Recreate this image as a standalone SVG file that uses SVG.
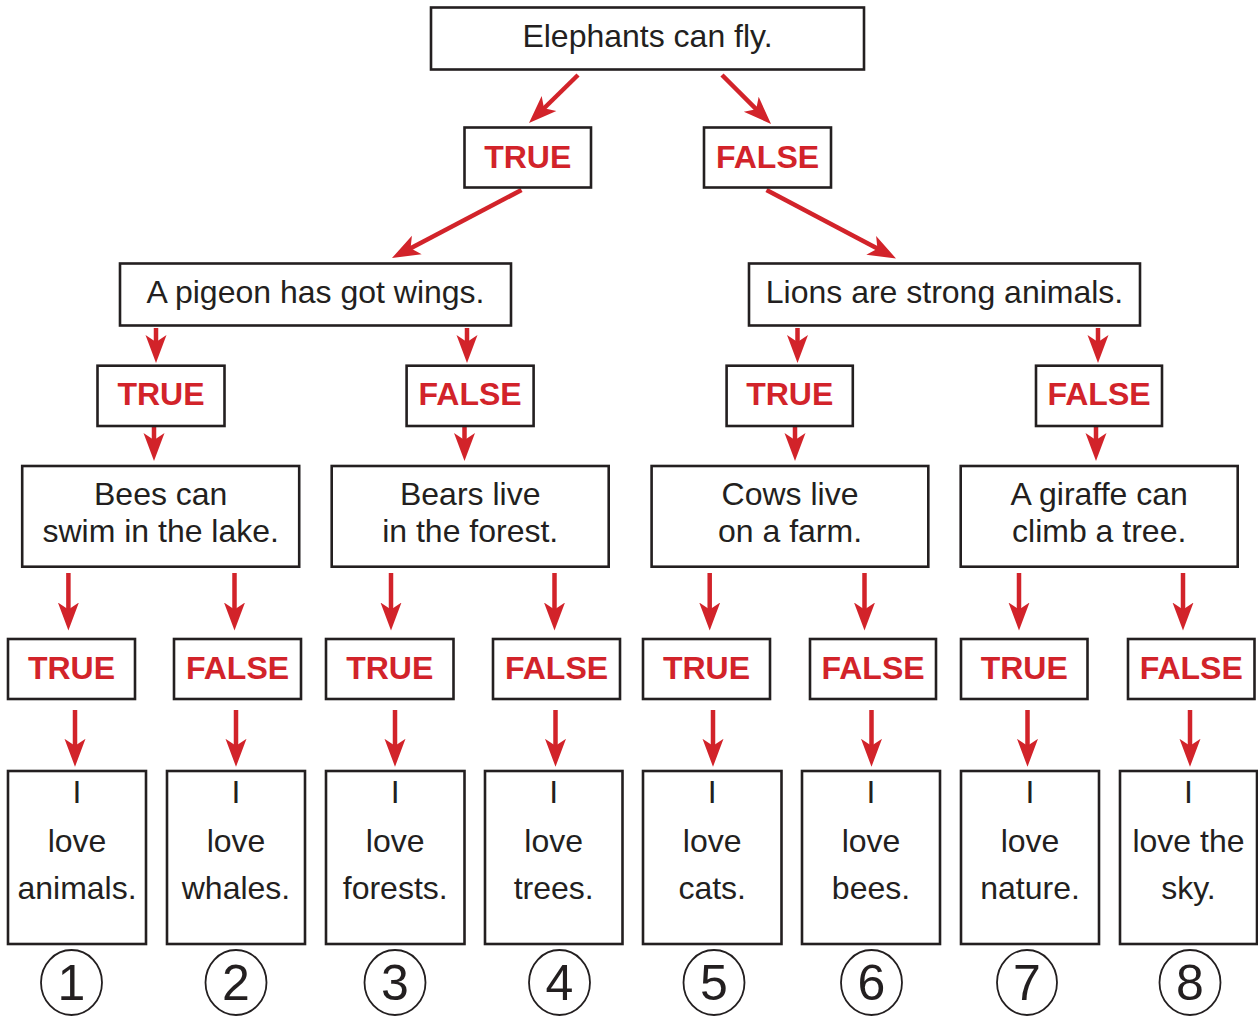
<svg xmlns="http://www.w3.org/2000/svg" width="1258" height="1016" viewBox="0 0 1258 1016">
<defs>
<style>
.box{fill:#ffffff;stroke:#231f20;stroke-width:2.6}
.t{font-family:"Liberation Sans",Arial,sans-serif;font-size:32px;fill:#231f20;text-anchor:middle}
.tf{font-family:"Liberation Sans",Arial,sans-serif;font-size:32px;font-weight:bold;fill:#d2232a;text-anchor:middle}
.num{font-family:"Liberation Sans",Arial,sans-serif;font-size:50px;fill:#231f20;text-anchor:middle}
.circ{fill:#ffffff;stroke:#231f20;stroke-width:1.8}
.arr{stroke:#d2232a;stroke-width:4.5;fill:none;marker-end:url(#ah)}
</style>
<marker id="ah" markerUnits="userSpaceOnUse" markerWidth="30" markerHeight="24" viewBox="0 -12 30 24" refX="8" refY="0" orient="auto">
<path d="M28,0 L0,-10.5 L7,0 L0,10.5 Z" fill="#d2232a"/>
</marker>
</defs>

<g id="connectors">
<line class="arr" x1="578" y1="75" x2="543.3" y2="109"/>
<line class="arr" x1="722" y1="75" x2="756.9" y2="109.9"/>
<line class="arr" x1="521.5" y1="190" x2="409.7" y2="248.7"/>
<line class="arr" x1="766.5" y1="190" x2="878.3" y2="249.1"/>

<line class="arr" x1="156" y1="328" x2="156" y2="343"/>
<line class="arr" x1="467" y1="328" x2="467" y2="343"/>
<line class="arr" x1="797.5" y1="328" x2="797.5" y2="343"/>
<line class="arr" x1="1098" y1="328" x2="1098" y2="343"/>

<line class="arr" x1="154" y1="426" x2="154" y2="441"/>
<line class="arr" x1="464.5" y1="426" x2="464.5" y2="441"/>
<line class="arr" x1="795" y1="426" x2="795" y2="441"/>
<line class="arr" x1="1096" y1="426" x2="1096" y2="441"/>

<line class="arr" x1="68.4" y1="573" x2="68.4" y2="610.5"/>
<line class="arr" x1="234.5" y1="573" x2="234.5" y2="610.5"/>
<line class="arr" x1="391" y1="573" x2="391" y2="610.5"/>
<line class="arr" x1="554.5" y1="573" x2="554.5" y2="610.5"/>
<line class="arr" x1="709.7" y1="573" x2="709.7" y2="610.5"/>
<line class="arr" x1="864.5" y1="573" x2="864.5" y2="610.5"/>
<line class="arr" x1="1019" y1="573" x2="1019" y2="610.5"/>
<line class="arr" x1="1183" y1="573" x2="1183" y2="610.5"/>

<line class="arr" x1="75" y1="710" x2="75" y2="746.8"/>
<line class="arr" x1="236" y1="710" x2="236" y2="746.8"/>
<line class="arr" x1="395" y1="710" x2="395" y2="746.8"/>
<line class="arr" x1="555.5" y1="710" x2="555.5" y2="746.8"/>
<line class="arr" x1="713" y1="710" x2="713" y2="746.8"/>
<line class="arr" x1="871.5" y1="710" x2="871.5" y2="746.8"/>
<line class="arr" x1="1027.5" y1="710" x2="1027.5" y2="746.8"/>
<line class="arr" x1="1190" y1="710" x2="1190" y2="746.8"/>
</g>

<g id="root"><rect class="box" x="431" y="7.5" width="433" height="62"/><text class="t" x="647.5" y="47">Elephants can fly.</text></g>

<g id="tf1-true"><rect class="box" x="464.5" y="127.5" width="126.5" height="60"/><text class="tf" x="527.7" y="168">TRUE</text></g>
<g id="tf1-false"><rect class="box" x="704" y="127.5" width="127" height="60"/><text class="tf" x="767.5" y="168">FALSE</text></g>

<g id="q-pigeon"><rect class="box" x="120" y="263.5" width="391" height="62"/><text class="t" x="315.5" y="302.7">A pigeon has got wings.</text></g>
<g id="q-lions"><rect class="box" x="749" y="263.5" width="391" height="62"/><text class="t" x="944.5" y="302.7">Lions are strong animals.</text></g>

<g id="tf2-true-a"><rect class="box" x="97.5" y="365.7" width="127" height="60.3"/><text class="tf" x="161" y="405">TRUE</text></g>
<g id="tf2-false-a"><rect class="box" x="406.6" y="365.7" width="127" height="60.3"/><text class="tf" x="470.1" y="405">FALSE</text></g>
<g id="tf2-true-b"><rect class="box" x="726.6" y="365.7" width="126.2" height="60.3"/><text class="tf" x="789.7" y="405">TRUE</text></g>
<g id="tf2-false-b"><rect class="box" x="1036" y="365.7" width="126" height="60.3"/><text class="tf" x="1099" y="405">FALSE</text></g>

<g id="q-bees"><rect class="box" x="22.2" y="466" width="277" height="100.7"/><text class="t" x="160.7" y="505">Bees can</text><text class="t" x="160.7" y="542">swim in the lake.</text></g>
<g id="q-bears"><rect class="box" x="331.7" y="466" width="277" height="100.7"/><text class="t" x="470.2" y="505">Bears live</text><text class="t" x="470.2" y="542">in the forest.</text></g>
<g id="q-cows"><rect class="box" x="651.6" y="466" width="276.7" height="100.7"/><text class="t" x="790" y="505">Cows live</text><text class="t" x="790" y="542">on a farm.</text></g>
<g id="q-giraffe"><rect class="box" x="960.7" y="466" width="277" height="100.7"/><text class="t" x="1099.2" y="505">A giraffe can</text><text class="t" x="1099.2" y="542">climb a tree.</text></g>

<g id="tf3-1"><rect class="box" x="8" y="639" width="127" height="60"/><text class="tf" x="71.5" y="679">TRUE</text></g>
<g id="tf3-2"><rect class="box" x="174" y="639" width="127" height="60"/><text class="tf" x="237.5" y="679">FALSE</text></g>
<g id="tf3-3"><rect class="box" x="326" y="639" width="127.5" height="60"/><text class="tf" x="389.7" y="679">TRUE</text></g>
<g id="tf3-4"><rect class="box" x="493" y="639" width="127" height="60"/><text class="tf" x="556.5" y="679">FALSE</text></g>
<g id="tf3-5"><rect class="box" x="643" y="639" width="127" height="60"/><text class="tf" x="706.5" y="679">TRUE</text></g>
<g id="tf3-6"><rect class="box" x="810" y="639" width="126" height="60"/><text class="tf" x="873" y="679">FALSE</text></g>
<g id="tf3-7"><rect class="box" x="961" y="639" width="126.5" height="60"/><text class="tf" x="1024.2" y="679">TRUE</text></g>
<g id="tf3-8"><rect class="box" x="1128" y="639" width="126.5" height="60"/><text class="tf" x="1191.2" y="679">FALSE</text></g>

<g id="leaf-1"><rect class="box" x="8" y="771" width="138" height="173"/><text class="t" x="77" y="803">I</text><text class="t" x="77" y="851.5">love</text><text class="t" x="77" y="899">animals.</text></g>
<g id="leaf-2"><rect class="box" x="167" y="771" width="138" height="173"/><text class="t" x="236" y="803">I</text><text class="t" x="236" y="851.5">love</text><text class="t" x="236" y="899">whales.</text></g>
<g id="leaf-3"><rect class="box" x="326" y="771" width="138.5" height="173"/><text class="t" x="395.2" y="803">I</text><text class="t" x="395.2" y="851.5">love</text><text class="t" x="395.2" y="899">forests.</text></g>
<g id="leaf-4"><rect class="box" x="485" y="771" width="137.5" height="173"/><text class="t" x="553.7" y="803">I</text><text class="t" x="553.7" y="851.5">love</text><text class="t" x="553.7" y="899">trees.</text></g>
<g id="leaf-5"><rect class="box" x="643" y="771" width="138.5" height="173"/><text class="t" x="712.2" y="803">I</text><text class="t" x="712.2" y="851.5">love</text><text class="t" x="712.2" y="899">cats.</text></g>
<g id="leaf-6"><rect class="box" x="802" y="771" width="138" height="173"/><text class="t" x="871" y="803">I</text><text class="t" x="871" y="851.5">love</text><text class="t" x="871" y="899">bees.</text></g>
<g id="leaf-7"><rect class="box" x="961" y="771" width="138" height="173"/><text class="t" x="1030" y="803">I</text><text class="t" x="1030" y="851.5">love</text><text class="t" x="1030" y="899">nature.</text></g>
<g id="leaf-8"><rect class="box" x="1120" y="771" width="137" height="173"/><text class="t" x="1188.5" y="803">I</text><text class="t" x="1188.5" y="851.5">love the</text><text class="t" x="1188.5" y="899">sky.</text></g>

<g id="num-1"><ellipse class="circ" cx="71.5" cy="982.5" rx="30.5" ry="32.5"/><text class="num" x="71.5" y="1000">1</text></g>
<g id="num-2"><ellipse class="circ" cx="236" cy="982.5" rx="30.5" ry="32.5"/><text class="num" x="236" y="1000">2</text></g>
<g id="num-3"><ellipse class="circ" cx="395" cy="982.5" rx="30.5" ry="32.5"/><text class="num" x="395" y="1000">3</text></g>
<g id="num-4"><ellipse class="circ" cx="559.5" cy="982.5" rx="30.5" ry="32.5"/><text class="num" x="559.5" y="1000">4</text></g>
<g id="num-5"><ellipse class="circ" cx="714" cy="982.5" rx="30.5" ry="32.5"/><text class="num" x="714" y="1000">5</text></g>
<g id="num-6"><ellipse class="circ" cx="871.5" cy="982.5" rx="30.5" ry="32.5"/><text class="num" x="871.5" y="1000">6</text></g>
<g id="num-7"><ellipse class="circ" cx="1027" cy="982.5" rx="30" ry="32.5"/><text class="num" x="1027" y="1000">7</text></g>
<g id="num-8"><ellipse class="circ" cx="1190" cy="982.5" rx="30.5" ry="32.5"/><text class="num" x="1190" y="1000">8</text></g>
</svg>
